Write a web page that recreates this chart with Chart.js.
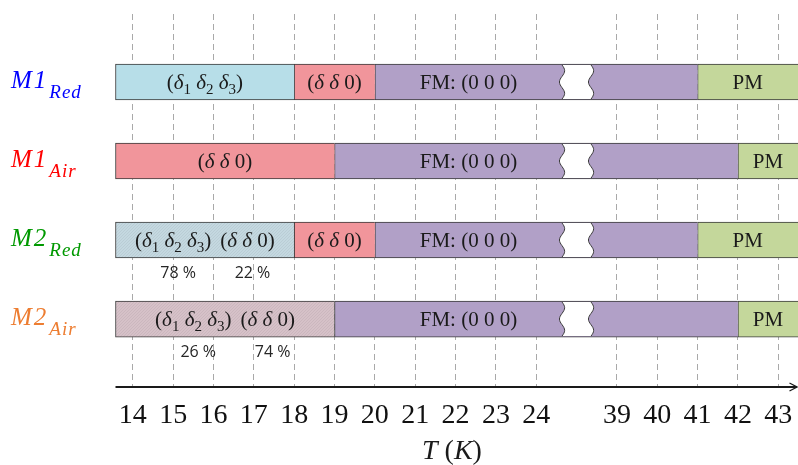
<!DOCTYPE html>
<html>
<head>
<meta charset="utf-8">
<script src="https://cdn.jsdelivr.net/npm/chart.js@4/dist/chart.umd.min.js"></script>
<style>
  html, body { margin: 0; padding: 0; background: #ffffff; }
  #wrap { width: 798px; height: 465px; }
</style>
</head>
<body>
<div id="wrap"><canvas id="phases" width="798" height="465"></canvas></div>
<script>
// ---- data -------------------------------------------------------------
// Temperature ticks on both sides of the axis break (K)
const TICKS_LOW = [14, 15, 16, 17, 18, 19, 20, 21, 22, 23, 24];
const TICKS_HIGH = [39, 40, 41, 42, 43];

// Temperature range covered by the diagram (K)
const T_LEFT = 13.57;
const T_RIGHT = 43.49;
const T_END = 44;          // phases that carry on past the right edge

// Samples, top to bottom
const SAMPLES = ['M1_Red', 'M1_Air', 'M2_Red', 'M2_Air'];

// Phase sequence and transition temperatures (K) of each sample
const M1_RED_PHASES = ['helical', 'canted', 'fm', 'pm'];
const M1_RED_TC = [18, 20, 41];
const M1_AIR_PHASES = ['canted', 'fm', 'pm'];
const M1_AIR_TC = [19, 42];
const M2_RED_PHASES = ['mixed', 'canted', 'fm', 'pm'];
const M2_RED_TC = [18, 20, 41];
const M2_AIR_PHASES = ['mixed', 'fm', 'pm'];
const M2_AIR_TC = [19, 42];

// Phase fractions in the two-phase regions: (δ1 δ2 δ3) %, (δ δ 0) %
const M2_RED_FRACTIONS = [78, 22];
const M2_AIR_FRACTIONS = [26, 74];

// ---- styling ------------------------------------------------------------
const SAMPLE_COLORS = ['#0000ff', '#ff0000', '#009900', '#ed7d31'];
const PHASE_COLORS = {
  helical: '#b7dee8',
  canted: '#f1959b',
  fm: '#b1a0c7',
  pm: '#c4d79b'
};
const PHASE_TEXT = {
  helical: '(δ_1 δ_2 δ_3)',
  canted: '(δ δ 0)',
  fm: 'FM: (0 0 0)',
  pm: 'PM'
};
const SERIF = '"Liberation Serif", "Times New Roman", serif';
const SANS = '"Open Sans", "Liberation Sans", sans-serif';
const BORDER = '#3a3a3a';
const BAR_H = 36;
const AXIS_BAND = 78;       // height below the plot for tick labels and title

// ---- broken temperature axis ------------------------------------------
// Both stretches use 1 unit per kelvin with a two-unit gap for the break.
const BREAK_GAP = 2;
function toAxis(t) {
  const lowEnd = TICKS_LOW[TICKS_LOW.length - 1];
  if (t <= lowEnd) return t - TICKS_LOW[0];
  return (lowEnd - TICKS_LOW[0]) + BREAK_GAP + (t - TICKS_HIGH[0]);
}
const TICK_TEMPS = TICKS_LOW.concat(TICKS_HIGH);
const BREAK_AT = (toAxis(TICKS_LOW[TICKS_LOW.length - 1]) + toAxis(TICKS_HIGH[0])) / 2;
const BREAK_LABEL_FROM = 20;  // labels of bars running across the break sit after 20 K

// ---- bar segments ---------------------------------------------------------
const rows = [
  { phases: M1_RED_PHASES, tc: M1_RED_TC, fractions: null },
  { phases: M1_AIR_PHASES, tc: M1_AIR_TC, fractions: null },
  { phases: M2_RED_PHASES, tc: M2_RED_TC, fractions: M2_RED_FRACTIONS },
  { phases: M2_AIR_PHASES, tc: M2_AIR_TC, fractions: M2_AIR_FRACTIONS }
];
const segmentsByPhase = {};
rows.forEach((row, i) => {
  const edges = [T_LEFT].concat(row.tc, [T_END]);
  row.phases.forEach((phase, j) => {
    (segmentsByPhase[phase] = segmentsByPhase[phase] || []).push({
      x: [toAxis(edges[j]), toAxis(edges[j + 1])],
      y: i,
      last: j === row.phases.length - 1,
      fractions: phase === 'mixed' ? row.fractions : null
    });
  });
});

// Two-phase fill: the two phase colours blended by their proportions,
// toned down slightly and given a fine stipple texture.
function hexRgb(h) {
  return [1, 3, 5].map(k => parseInt(h.slice(k, k + 2), 16));
}
const patternCache = {};
function mixedFill(fractions) {
  const key = fractions.join('/');
  if (patternCache[key]) return patternCache[key];
  const a = hexRgb(PHASE_COLORS.helical), b = hexRgb(PHASE_COLORS.canted);
  const share = Math.sqrt(fractions[0] / (fractions[0] + fractions[1]));
  const mix = a.map((v, k) => Math.round((v * share + b[k] * (1 - share)) * 0.84 + 228 * 0.16));
  const dot = mix.map(v => Math.round(v * 0.95));
  const c = document.createElement('canvas');
  c.width = 3; c.height = 3;
  const g = c.getContext('2d');
  g.fillStyle = 'rgb(' + mix.join(',') + ')';
  g.fillRect(0, 0, 3, 3);
  g.fillStyle = 'rgb(' + dot.join(',') + ')';
  g.fillRect(0, 0, 1, 1);
  g.fillRect(2, 1, 1, 1);
  g.fillRect(1, 2, 1, 1);
  const ctx = document.getElementById('phases').getContext('2d');
  patternCache[key] = ctx.createPattern(c, 'repeat');
  return patternCache[key];
}

const datasets = Object.keys(segmentsByPhase).map(phase => ({
  label: phase,
  data: segmentsByPhase[phase],
  backgroundColor: ctx => {
    if (phase === 'mixed') return ctx.raw && ctx.raw.fractions ? mixedFill(ctx.raw.fractions) : '#cccccc';
    return PHASE_COLORS[phase];
  },
  borderColor: BORDER,
  borderWidth: ctx => ({ top: 1, bottom: 1, left: 1, right: ctx.raw && ctx.raw.last ? 1 : 0 }),
  borderSkipped: false,
  grouped: false,
  barThickness: BAR_H,
  clip: { left: 4, top: 4, right: 0, bottom: 4 }
}));

// ---- text helpers ------------------------------------------------------------
// '_' turns the next character into a subscript; δ is set in italic
function runsOf(str) {
  const runs = [];
  for (let i = 0; i < str.length; i++) {
    if (str[i] === '_') runs.push({ t: str[++i], sub: true });
    else runs.push({ t: str[i], it: str[i] === 'δ' });
  }
  return runs;
}
function runFont(r, size, family) {
  return (r.it ? 'italic ' : '') + (r.sub ? Math.round(size * 0.7) : size) + 'px ' + family;
}
function runsWidth(ctx, runs, size, family) {
  let w = 0;
  runs.forEach(r => { ctx.font = runFont(r, size, family); w += ctx.measureText(r.t).width; });
  return w;
}
function drawRuns(ctx, runs, left, baseline, size, family) {
  let xx = left;
  runs.forEach(r => {
    ctx.font = runFont(r, size, family);
    ctx.fillText(r.t, xx, baseline + (r.sub ? size * 0.24 : 0));
    xx += ctx.measureText(r.t).width;
  });
}

// ---- drawing plugin -----------------------------------------------------
const diagram = {
  id: 'diagram',
  afterDatasetsDraw(chart) {
    const { ctx, chartArea, scales } = chart;
    const xs = scales.x, ys = scales.y;
    const breakX = xs.getPixelForValue(BREAK_AT);
    const halfGap = 14.5;
    ctx.save();

    // wavy cut-outs where the bars cross the axis break
    SAMPLES.forEach((s, i) => {
      const cy = ys.getPixelForValue(i);
      const top = cy - BAR_H / 2 + 1, bot = cy + BAR_H / 2 - 1;
      const edge = (x0, t) => x0 + 2.6 * Math.sin(t * Math.PI * 3);
      const N = 24;
      ctx.beginPath();
      for (let k = 0; k <= N; k++) {
        const t = k / N;
        const px = edge(breakX - halfGap, t), py = top + t * (bot - top);
        k ? ctx.lineTo(px, py) : ctx.moveTo(px, py);
      }
      for (let k = N; k >= 0; k--) {
        const t = k / N;
        ctx.lineTo(edge(breakX + halfGap, t), top + t * (bot - top));
      }
      ctx.closePath();
      ctx.fillStyle = '#ffffff';
      ctx.fill();
      ctx.strokeStyle = BORDER;
      ctx.lineWidth = 1;
      [breakX - halfGap, breakX + halfGap].forEach(x0 => {
        ctx.beginPath();
        for (let k = 0; k <= N; k++) {
          const t = k / N;
          const px = edge(x0, t), py = top + t * (bot - top);
          k ? ctx.lineTo(px, py) : ctx.moveTo(px, py);
        }
        ctx.stroke();
      });
    });

    // phase names inside the bars
    ctx.fillStyle = '#1a1a1a';
    ctx.textAlign = 'left';
    ctx.textBaseline = 'alphabetic';
    const size = 21;
    chart.data.datasets.forEach((ds, di) => {
      const meta = chart.getDatasetMeta(di);
      meta.data.forEach((el, k) => {
        const raw = ds.data[k];
        const p = el.getProps(['x', 'base', 'y'], true);
        let left = Math.max(Math.min(p.x, p.base), chartArea.left);
        let right = Math.min(Math.max(p.x, p.base), chartArea.right);
        if (left < breakX && right > breakX) {
          left = Math.max(left, xs.getPixelForValue(toAxis(BREAK_LABEL_FROM)));
          right = breakX - halfGap;
        }
        const cx = (left + right) / 2;
        const baseline = p.y + size * 0.34;
        if (ds.label === 'mixed') {
          const parts = [runsOf(PHASE_TEXT.helical), runsOf(PHASE_TEXT.canted)];
          const w = parts.map(r => runsWidth(ctx, r, size, SERIF));
          const gap = 9;
          let x0 = cx - (w[0] + gap + w[1]) / 2;
          const centres = [x0 + w[0] / 2, x0 + w[0] + gap + w[1] / 2];
          drawRuns(ctx, parts[0], x0, baseline, size, SERIF);
          drawRuns(ctx, parts[1], x0 + w[0] + gap, baseline, size, SERIF);
          ctx.font = '16px ' + SANS;
          ctx.textAlign = 'center';
          ctx.fillStyle = '#262626';
          raw.fractions.forEach((f, n) => {
            ctx.fillText(f + ' %', centres[n] + 5, p.y + BAR_H / 2 + 20);
          });
          ctx.textAlign = 'left';
          ctx.fillStyle = '#1a1a1a';
        } else {
          const runs = runsOf(PHASE_TEXT[ds.label]);
          const w = runsWidth(ctx, runs, size, SERIF);
          drawRuns(ctx, runs, cx - w / 2, baseline, size, SERIF);
        }
      });
    });
    ctx.restore();
  },
  afterDraw(chart) {
    const { ctx, chartArea, scales } = chart;
    const ys = scales.y;
    ctx.save();

    // temperature axis with arrow head
    const ay = chartArea.bottom;
    ctx.strokeStyle = '#1a1a1a';
    ctx.lineWidth = 1.8;
    ctx.beginPath();
    ctx.moveTo(chartArea.left, ay);
    ctx.lineTo(chart.width - 1.5, ay);
    ctx.stroke();
    ctx.lineWidth = 1.2;
    ctx.beginPath();
    ctx.moveTo(chart.width - 8.5, ay - 4);
    ctx.lineTo(chart.width - 1, ay);
    ctx.lineTo(chart.width - 8.5, ay + 4);
    ctx.stroke();

    // sample names with subscripts
    ctx.textAlign = 'left';
    ctx.textBaseline = 'alphabetic';
    SAMPLES.forEach((s, i) => {
      const [name, sub] = s.split('_');
      const cy = ys.getPixelForValue(i);
      ctx.fillStyle = SAMPLE_COLORS[i];
      ctx.letterSpacing = '2px';
      ctx.font = 'italic 25px ' + SERIF;
      ctx.fillText(name, 11, cy + 6);
      const w = ctx.measureText(name).width;
      ctx.letterSpacing = '1px';
      ctx.font = 'italic 19px ' + SERIF;
      ctx.fillText(sub, 11 + w + 1, cy + 16);
      ctx.letterSpacing = '0px';
    });

    // axis title
    ctx.fillStyle = '#1a1a1a';
    const title = [{ t: 'T', it: true }, { t: ' (' }, { t: 'K', it: true }, { t: ')' }];
    const tw = runsWidth(ctx, title, 28, SERIF);
    drawRuns(ctx, title, 452 - tw / 2, 459, 28, SERIF);
    ctx.restore();
  }
};

// ---- chart --------------------------------------------------------------
new Chart(document.getElementById('phases'), {
  type: 'bar',
  data: { datasets },
  options: {
    indexAxis: 'y',
    responsive: false,
    animation: false,
    devicePixelRatio: 1,
    layout: { padding: { left: 115.5, right: 0, top: 14, bottom: 0 } },
    plugins: { legend: { display: false }, tooltip: { enabled: false } },
    scales: {
      x: {
        type: 'linear',
        min: toAxis(T_LEFT),
        max: toAxis(T_RIGHT),
        afterBuildTicks: scale => { scale.ticks = TICK_TEMPS.map(t => ({ value: toAxis(t) })); },
        afterFit: scale => {
          scale.paddingLeft = 0;
          scale.paddingRight = 0;
          scale.height = AXIS_BAND;
        },
        ticks: {
          autoSkip: false,
          maxRotation: 0,
          minRotation: 0,
          padding: 12,
          color: '#111111',
          font: { family: SERIF, size: 28 },
          callback: (v, i) => String(TICK_TEMPS[i])
        },
        grid: { color: '#a9a9a9', lineWidth: 1, drawTicks: false },
        border: { display: false, dash: [6, 4] }
      },
      y: {
        type: 'linear',
        reverse: true,
        offset: false,
        min: -0.861,
        max: SAMPLES.length - 1 + 0.86,
        display: false
      }
    }
  },
  plugins: [diagram]
});
</script>
</body>
</html>
